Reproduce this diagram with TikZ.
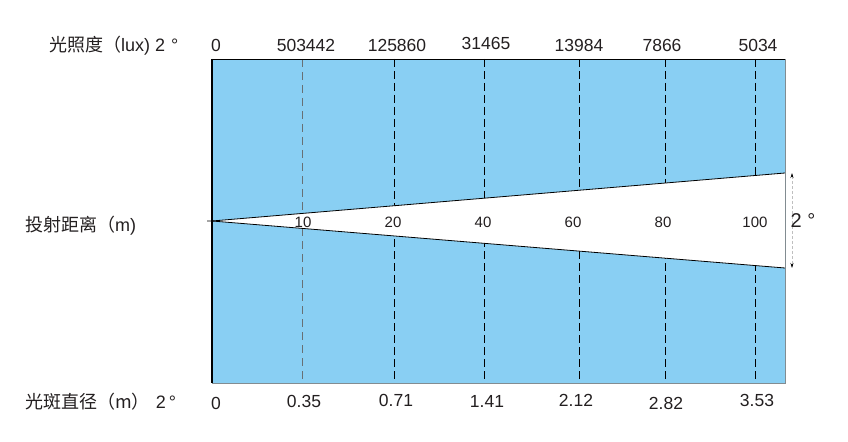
\documentclass[tikz,border=0pt]{standalone}
\usepackage{fontspec}
\setmainfont{Liberation Sans}
\newfontfamily\cjk{Noto Sans CJK SC}
\usetikzlibrary{arrows.meta}
\definecolor{beamblue}{RGB}{137,207,243}
\definecolor{txt}{RGB}{35,31,32}
\definecolor{edgegrey}{RGB}{130,140,145}
\begin{document}
\begin{tikzpicture}[x=1bp,y=-1bp,
  lbl/.style={inner sep=0pt,anchor=base,text=txt,font=\fontsize{17.5bp}{19bp}\selectfont},
  dist/.style={inner sep=0pt,text=txt,font=\fontsize{15bp}{17bp}\selectfont},
  side/.style={inner sep=0pt,anchor=base west,text=txt,font=\fontsize{18bp}{20bp}\selectfont}]

\useasboundingbox (0,0) rectangle (848,442);

% field of light
\fill[beamblue] (212,59) rectangle (785,383);

\draw[dash pattern=on 8bp off 5bp,color=edgegrey!80!black,line width=0.8bp] (302,59) -- (302,383);
\foreach \x in {394,484,579,665,755}
  \draw[dash pattern=on 8bp off 4bp,line width=1bp] (\x,59) -- (\x,383);

% beam
\coordinate (apex) at (212,221);
\coordinate (btop) at (785,173);
\coordinate (bbot) at (785,268);
\fill[white] (apex) -- (btop) -- (bbot) -- cycle;
\draw[line width=0.8bp] (207,221) -- (apex) -- (btop);
\draw[line width=0.8bp] (apex) -- (bbot);

% frame
\draw[edgegrey,line width=0.8bp] (212,383) -- (785,383) -- (785,59);
\draw[line width=0.8bp] (212,59) -- (785,59);
\draw[line width=1.6bp] (212,59) -- (212,383);

% angle marker
\coordinate (atop) at (792,173);
\coordinate (abot) at (792,268);
\draw[black!25,densely dashed,line width=0.6bp,
  {Stealth[length=5bp,width=3bp,black]}-{Stealth[length=5bp,width=3bp,black]}] (atop) -- (abot);
\node[inner sep=0pt,text=txt,font=\fontsize{20bp}{22bp}\selectfont] (angle) at (803,221) {2 °};

% row titles
\node[side] (luxtitle) at (49,52) {{\cjk 光照度（}lux)\hspace{5bp}2\hspace{6bp}°};
\node[side] (disttitle) at (25,232) {{\cjk 投射距离（}m)};
\node[side] (spottitle) at (25,408) {{\cjk 光斑直径（m）}\hspace{6bp}2\hspace{3bp}°};

% illuminance
\node[lbl] (lux0) at (216,52) {0};
\foreach \x/\y/\v [count=\i] in {306/52/503442,397/52/125860,486/50/31465,579/52/13984,662/52/7866,758/52/5034}
  \node[lbl] (lux\i) at (\x,\y) {\v};

% distance
\foreach \x/\v [count=\i] in {303/10,393/20,483/40,573/60,663/80,755/100}
  \node[dist] (dist\i) at (\x,222) {\v};

% spot diameter
\node[lbl] (spot0) at (216,409) {0};
\foreach \x/\y/\v [count=\i] in {304/407/0.35,396/406/0.71,487/407/1.41,576/406/2.12,666/409/2.82,757/406/3.53}
  \node[lbl] (spot\i) at (\x,\y) {\v};

\end{tikzpicture}
\end{document}
